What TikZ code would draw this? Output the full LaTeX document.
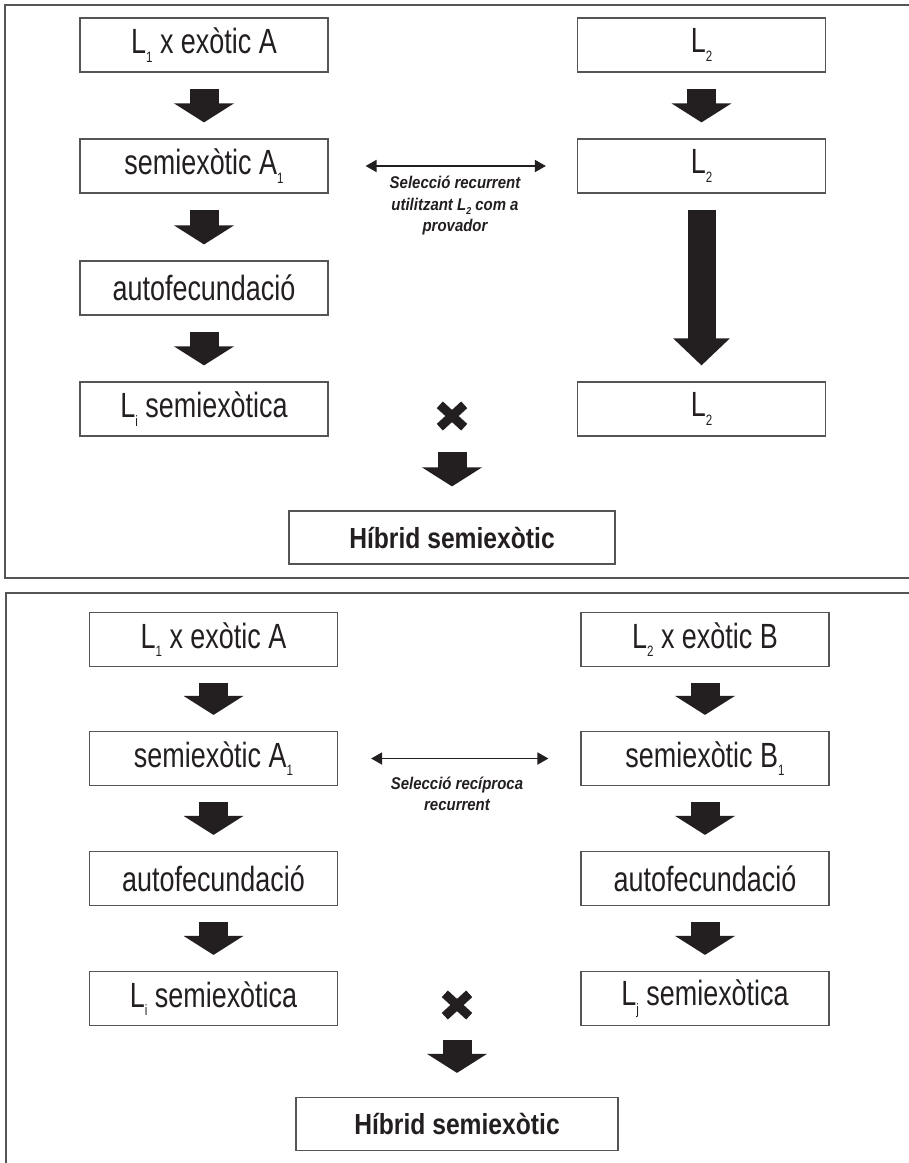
\documentclass[tikz,border=0pt]{standalone}
\usepackage{fontspec}
\setmainfont{Liberation Sans}[FakeStretch=0.77]
\newfontfamily\hybfont{Liberation Sans}[FakeStretch=0.85]
\newfontfamily\midfont{Liberation Sans}[FakeStretch=0.88]
\usetikzlibrary{arrows.meta}
\definecolor{ink}{HTML}{231F20}
\definecolor{edge}{HTML}{555555}
\newcommand\lsub[1]{\raisebox{-0.45ex}{\fontsize{15}{15}\selectfont #1}}
\newcommand\msub[1]{\raisebox{-0.45ex}{\fontsize{10}{10}\selectfont #1}}
\begin{document}
\begin{tikzpicture}[x=1pt,y=-1pt,
  box/.style={draw=edge, line width=1.2pt, minimum width=248pt, minimum height=54pt, inner sep=0pt, text=ink, font=\fontsize{35}{40}\selectfont},
  hyb/.style={box, minimum width=326pt, minimum height=53pt, font=\hybfont\bfseries\fontsize{29}{34}\selectfont},
  blk/.style={draw=ink, line width=29pt, -{Triangle[length=19pt,width=59pt]}},
  longblk/.style={draw=ink, line width=28pt, -{Triangle[length=27pt,width=55pt]}},
  dbl/.style={draw=ink, line width=1.8pt, {Triangle[length=11pt,width=12pt]}-{Triangle[length=11pt,width=12pt]}},
  mid/.style={text=ink, align=center, font=\midfont\bfseries\itshape\fontsize{17}{21.5}\selectfont},
  frame/.style={draw=edge, line width=1.6pt},
  xmark/.style={minimum width=24pt, minimum height=22pt, inner sep=0pt},
  xline/.style={draw=ink, line width=9pt}
]
\useasboundingbox (0,0) rectangle (909,1163);
\clip (0,0) rectangle (909,1163);
\fill[white] (0,0) rectangle (909,1163);
% frames
\draw[frame] (5,5) rectangle (915,578);
\draw[frame] (6,593) rectangle (915,1175);
% ---------- top panel ----------
\node[box] (a1) at (204,45) {L\lsub{1} x exòtic A};
\node[box] (a2) at (204,166) {semiexòtic A\lsub{1}};
\node[box] (a3) at (204,288) {autofecundació};
\node[box] (a4) at (204,409) {L\lsub{i} semiexòtica};
\node[box] (b1) at (701.5,45) {L\lsub{2}};
\node[box] (b2) at (701.5,166) {L\lsub{2}};
\node[box] (b4) at (701.5,409) {L\lsub{2}};
\node[xmark] (x1) at (452,416) {};
\node[hyb] (h1) at (452,537.5) {Híbrid semiexòtic};
\draw[blk] ([yshift=-16pt]a1.south) -- ([yshift=16pt]a2.north);
\draw[blk] ([yshift=-16pt]a2.south) -- ([yshift=16pt]a3.north);
\draw[blk] ([yshift=-16pt]a3.south) -- ([yshift=16pt]a4.north);
\draw[blk] ([yshift=-16pt]b1.south) -- ([yshift=16pt]b2.north);
\draw[longblk] ([yshift=-16pt]b2.south) -- ([yshift=16pt]b4.north);
\draw[xline] (x1.south west) -- (x1.north east);
\draw[xline] (x1.north west) -- (x1.south east);
\draw[blk] ([yshift=-25pt]x1.south) -- ([yshift=24pt]h1.north);
\draw[dbl] ([xshift=37pt]a2.east) -- ([xshift=-31pt]b2.west);
\node[mid] (t1) at (455,206) {Selecció recurrent\\utilitzant L\msub{2} com a\\provador};
% ---------- bottom panel ----------
\node[box] (c1) at (213.5,639.5) {L\lsub{1} x exòtic A};
\node[box] (c2) at (213.5,758.5) {semiexòtic A\lsub{1}};
\node[box] (c3) at (213.5,878.5) {autofecundació};
\node[box] (c4) at (213.5,998.5) {L\lsub{i} semiexòtica};
\node[box] (d1) at (705,639.5) {L\lsub{2} x exòtic B};
\node[box] (d2) at (705,758.5) {semiexòtic B\lsub{1}};
\node[box] (d3) at (705,878.5) {autofecundació};
\node[box] (d4) at (705,998.5) {L\lsub{j} semiexòtica};
\node[xmark] (x2) at (457,1005) {};
\node[hyb, minimum width=322pt] (h2) at (457,1124) {Híbrid semiexòtic};
\draw[blk] ([yshift=-16pt]c1.south) -- ([yshift=16pt]c2.north);
\draw[blk] ([yshift=-16pt]c2.south) -- ([yshift=16pt]c3.north);
\draw[blk] ([yshift=-16pt]c3.south) -- ([yshift=16pt]c4.north);
\draw[blk] ([yshift=-16pt]d1.south) -- ([yshift=16pt]d2.north);
\draw[blk] ([yshift=-16pt]d2.south) -- ([yshift=16pt]d3.north);
\draw[blk] ([yshift=-16pt]d3.south) -- ([yshift=16pt]d4.north);
\draw[xline] (x2.south west) -- (x2.north east);
\draw[xline] (x2.north west) -- (x2.south east);
\draw[blk] ([yshift=-24pt]x2.south) -- ([yshift=24pt]h2.north);
\draw[dbl] ([xshift=33pt]c2.east) -- ([xshift=-32pt]d2.west);
\node[mid] (t2) at (457,794) {Selecció recíproca\\recurrent};
\end{tikzpicture}
\end{document}
